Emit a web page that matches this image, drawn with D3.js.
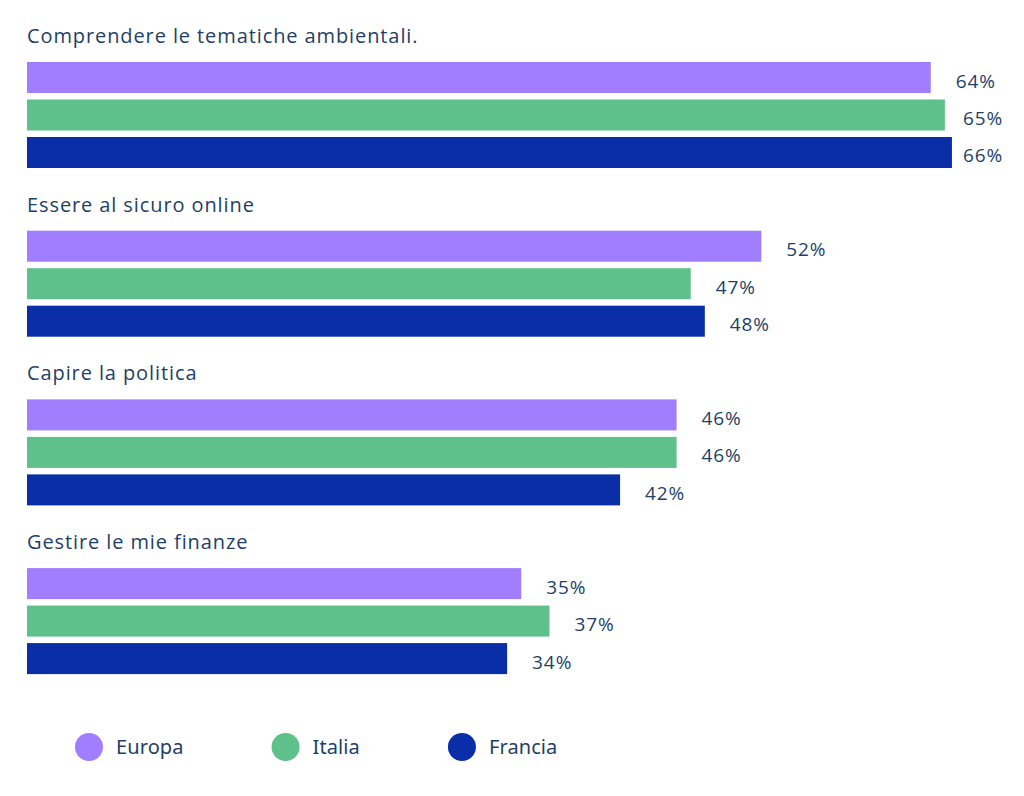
<!DOCTYPE html>
<html>
<head>
<meta charset="utf-8">
<script src="https://cdn.jsdelivr.net/npm/d3@7"></script>
<style>
  html, body { margin: 0; padding: 0; background: #fff; }
</style>
</head>
<body>
<div id="canvas"></div>
<script>
// data
let categories = [
    "Comprendere le tematiche ambientali.",
    "Essere al sicuro online",
    "Capire la politica",
    "Gestire le mie finanze"
];
let series = ["Europa", "Italia", "Francia"];
let europa = [64, 52, 46, 35];
let italia = [65, 47, 46, 37];
let francia = [65.5, 48, 42, 34];
let colors = ["#a07eff", "#5ec18b", "#092ea8"];

let width = 1024;
let height = 796;
let textColor = "#1f3f66";

let values = [europa, italia, francia];
let rows = [];
categories.forEach((c, i) => {
    series.forEach((s, j) => {
        rows.push({ category: c, series: s, value: values[j][i] });
    });
});

var svg = d3.select("#canvas").append("svg")
    .attr("width", width)
    .attr("height", height);

// x scale: 0% sits at the left edge of the bars
var xScale = d3.scaleLinear()
    .domain([0, 66])
    .range([27, 959]);

// one band per question
var yGroup = d3.scaleBand()
    .domain(categories)
    .range([62, 62 + 4 * 168.7]);

// one band per series inside a question
var yBar = d3.scaleBand()
    .domain(series)
    .range([0, 106])
    .paddingInner(0.173);

var color = d3.scaleOrdinal()
    .domain(series)
    .range(colors);

var fmt = d3.format(".0f");

// question titles
svg.selectAll(".title")
    .data(categories)
    .enter().append("text")
    .attr("class", "title")
    .attr("x", 27)
    .attr("y", d => yGroup(d) - 19)
    .attr("fill", textColor)
    .style("font-family", "'Open Sans', sans-serif")
    .style("font-size", "20px")
    .style("letter-spacing", "0.9px")
    .text(d => d);

// bars
svg.selectAll(".bar")
    .data(rows)
    .enter().append("rect")
    .attr("class", "bar")
    .attr("x", xScale(0))
    .attr("y", d => yGroup(d.category) + yBar(d.series))
    .attr("width", d => xScale(d.value) - xScale(0))
    .attr("height", yBar.bandwidth())
    .attr("fill", d => color(d.series));

// value labels
svg.selectAll(".label")
    .data(rows)
    .enter().append("text")
    .attr("class", "label")
    .attr("x", d => Math.min(xScale(d.value) + 25, 963))
    .attr("y", d => yGroup(d.category) + yBar(d.series) + yBar.bandwidth() / 2 + 10)
    .attr("fill", textColor)
    .style("font-family", "'Open Sans', sans-serif")
    .style("font-size", "19px")
    .style("letter-spacing", "0.9px")
    .text(d => fmt(d.value) + "%");

// legend laid out from the text widths
var legend = svg.append("g").attr("transform", "translate(0,747)");
let cursor = 75;
series.forEach(s => {
    var item = legend.append("g").attr("transform", "translate(" + cursor + ",0)");
    item.append("circle")
        .attr("cx", 14)
        .attr("cy", 0)
        .attr("r", 14)
        .attr("fill", color(s));
    var t = item.append("text")
        .attr("x", 41)
        .attr("y", 7)
        .attr("fill", textColor)
        .style("font-family", "'Noto Sans', sans-serif")
        .style("font-size", "20px")
        .style("letter-spacing", "0.1px")
        .text(s);
    cursor += 41 + t.node().getComputedTextLength() + 88;
});
</script>
</body>
</html>
